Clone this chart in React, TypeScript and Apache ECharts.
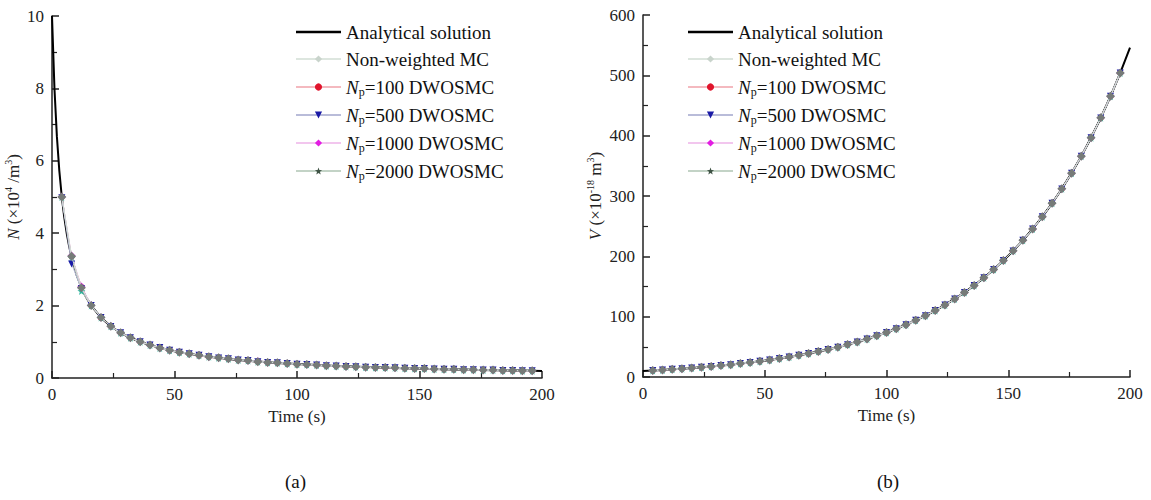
import React, { useEffect, useRef } from "react";
import * as echarts from "echarts";

// ---------- data ----------
const analyticTimesN = [0, 1, 2, 3, 4, 5, 6, 7, 8, 10, 12, 14, 16, 20, 24, 28, 32, 36, 40, 44, 48, 52, 56, 60, 64, 68, 72, 76, 80, 84, 88, 92, 96, 100, 104, 108, 112, 116, 120, 124, 128, 132, 136, 140, 144, 148, 152, 156, 160, 164, 168, 172, 176, 180, 184, 188, 192, 196, 200];
const analyticN = [10, 8, 6.667, 5.714, 5, 4.444, 4, 3.636, 3.333, 2.857, 2.5, 2.222, 2, 1.667, 1.429, 1.25, 1.111, 1.0, 0.909, 0.833, 0.769, 0.714, 0.667, 0.625, 0.588, 0.556, 0.526, 0.5, 0.476, 0.455, 0.435, 0.417, 0.4, 0.385, 0.37, 0.357, 0.345, 0.333, 0.323, 0.313, 0.303, 0.294, 0.286, 0.278, 0.27, 0.263, 0.256, 0.25, 0.244, 0.238, 0.233, 0.227, 0.222, 0.217, 0.213, 0.208, 0.204, 0.2, 0.196];

const analyticTimesV = [0, 4, 8, 12, 16, 20, 24, 28, 32, 36, 40, 44, 48, 52, 56, 60, 64, 68, 72, 76, 80, 84, 88, 92, 96, 100, 104, 108, 112, 116, 120, 124, 128, 132, 136, 140, 144, 148, 152, 156, 160, 164, 168, 172, 176, 180, 184, 188, 192, 196, 200];
const analyticV = [10.0, 10.8, 11.7, 12.7, 13.8, 14.9, 16.2, 17.5, 19.0, 20.5, 22.3, 24.1, 26.1, 28.3, 30.6, 33.2, 36.0, 39.0, 42.2, 45.7, 49.5, 53.7, 58.1, 63.0, 68.2, 73.9, 80.0, 86.7, 93.9, 101.7, 110.2, 119.4, 129.4, 140.1, 151.8, 164.4, 178.2, 193.0, 209.1, 226.5, 245.3, 265.8, 287.9, 311.9, 337.9, 366.0, 396.5, 429.5, 465.3, 504.0, 546.0];

const mcTimes = [4, 8, 12, 16, 20, 24, 28, 32, 36, 40, 44, 48, 52, 56, 60, 64, 68, 72, 76, 80, 84, 88, 92, 96, 100, 104, 108, 112, 116, 120, 124, 128, 132, 136, 140, 144, 148, 152, 156, 160, 164, 168, 172, 176, 180, 184, 188, 192, 196];

const nonWeightedN = [5.0, 3.36, 2.49, 2.0, 1.67, 1.43, 1.25, 1.11, 1.0, 0.91, 0.83, 0.77, 0.71, 0.67, 0.63, 0.59, 0.56, 0.53, 0.5, 0.48, 0.45, 0.43, 0.42, 0.4, 0.38, 0.37, 0.36, 0.34, 0.33, 0.32, 0.31, 0.3, 0.29, 0.29, 0.28, 0.27, 0.26, 0.26, 0.25, 0.24, 0.24, 0.23, 0.23, 0.22, 0.22, 0.21, 0.21, 0.2, 0.2];
const np100N = [5.0, 3.35, 2.52, 2.0, 1.66, 1.43, 1.25, 1.11, 1.0, 0.91, 0.83, 0.77, 0.71, 0.67, 0.62, 0.59, 0.56, 0.53, 0.5, 0.48, 0.45, 0.44, 0.42, 0.4, 0.38, 0.37, 0.36, 0.34, 0.33, 0.32, 0.31, 0.3, 0.29, 0.28, 0.28, 0.27, 0.26, 0.26, 0.25, 0.24, 0.24, 0.23, 0.23, 0.22, 0.22, 0.21, 0.21, 0.2, 0.2];
const np500N = [4.98, 3.15, 2.47, 2.0, 1.67, 1.42, 1.25, 1.11, 1.0, 0.91, 0.84, 0.77, 0.71, 0.67, 0.63, 0.59, 0.55, 0.53, 0.5, 0.48, 0.45, 0.43, 0.42, 0.4, 0.38, 0.37, 0.36, 0.34, 0.33, 0.32, 0.31, 0.3, 0.29, 0.29, 0.28, 0.27, 0.26, 0.26, 0.25, 0.24, 0.24, 0.23, 0.23, 0.22, 0.22, 0.21, 0.21, 0.2, 0.2];
const np1000N = [5.01, 3.38, 2.53, 2.01, 1.67, 1.43, 1.25, 1.11, 1.0, 0.91, 0.83, 0.77, 0.72, 0.67, 0.63, 0.59, 0.56, 0.53, 0.5, 0.48, 0.46, 0.43, 0.42, 0.4, 0.38, 0.37, 0.36, 0.34, 0.33, 0.32, 0.31, 0.3, 0.29, 0.29, 0.28, 0.27, 0.26, 0.26, 0.25, 0.24, 0.24, 0.23, 0.23, 0.22, 0.22, 0.21, 0.21, 0.2, 0.2];
const np2000N = [5.0, 3.32, 2.4, 2.0, 1.67, 1.43, 1.25, 1.11, 1.0, 0.91, 0.83, 0.77, 0.71, 0.67, 0.63, 0.59, 0.56, 0.53, 0.5, 0.48, 0.45, 0.43, 0.42, 0.4, 0.38, 0.37, 0.36, 0.34, 0.33, 0.32, 0.31, 0.3, 0.29, 0.29, 0.28, 0.27, 0.26, 0.26, 0.25, 0.24, 0.24, 0.23, 0.23, 0.22, 0.22, 0.21, 0.21, 0.2, 0.2];

const nonWeightedV = [10.8, 11.7, 12.7, 13.8, 14.9, 16.2, 17.5, 19.0, 20.5, 22.3, 24.1, 26.1, 28.3, 30.6, 33.2, 36.0, 39.0, 42.2, 45.7, 49.5, 53.7, 58.1, 63.0, 68.2, 73.9, 80.0, 86.7, 93.9, 101.7, 110.2, 119.4, 129.4, 140.1, 151.8, 164.4, 178.2, 193.0, 209.1, 226.5, 245.3, 265.8, 287.9, 311.9, 337.9, 366.0, 396.5, 429.5, 465.3, 504.0];
const np100V = [10.8, 11.7, 12.8, 13.8, 14.9, 16.2, 17.5, 19.0, 20.6, 22.3, 24.1, 26.1, 28.3, 30.7, 33.2, 36.0, 39.0, 42.2, 45.8, 49.5, 53.7, 58.1, 63.0, 68.2, 73.9, 80.1, 86.7, 93.9, 101.8, 110.2, 119.4, 129.4, 140.1, 151.9, 164.4, 178.2, 193.0, 209.1, 226.5, 245.4, 265.8, 287.9, 311.9, 337.9, 366.1, 396.5, 429.5, 465.3, 504.1];
const np500V = [10.8, 11.8, 12.7, 13.8, 14.9, 16.2, 17.5, 19.0, 20.5, 22.2, 24.1, 26.1, 28.3, 30.6, 33.2, 36.0, 39.0, 42.2, 45.7, 49.5, 53.6, 58.1, 63.0, 68.2, 73.8, 80.0, 86.7, 93.9, 101.7, 110.2, 119.4, 129.3, 140.1, 151.8, 164.4, 178.1, 193.0, 209.0, 226.5, 245.3, 265.7, 287.9, 311.8, 337.8, 366.0, 396.4, 429.4, 465.2, 503.9];
const np1000V = [10.8, 11.7, 12.7, 13.8, 15.0, 16.2, 17.5, 19.0, 20.5, 22.3, 24.1, 26.1, 28.3, 30.6, 33.2, 36.0, 39.0, 42.2, 45.7, 49.5, 53.7, 58.1, 63.0, 68.2, 73.9, 80.0, 86.7, 93.9, 101.7, 110.2, 119.4, 129.4, 140.1, 151.8, 164.4, 178.2, 193.0, 209.1, 226.5, 245.3, 265.8, 287.9, 311.9, 337.9, 366.0, 396.5, 429.5, 465.3, 504.0];
const np2000V = [10.8, 11.7, 12.7, 13.8, 14.9, 16.2, 17.5, 19.0, 20.5, 22.3, 24.1, 26.1, 28.3, 30.6, 33.2, 36.0, 39.0, 42.2, 45.7, 49.5, 53.7, 58.1, 63.0, 68.2, 73.9, 80.0, 86.7, 93.9, 101.7, 110.2, 119.4, 129.4, 140.1, 151.8, 164.4, 178.2, 193.0, 209.1, 226.5, 245.3, 265.8, 287.9, 311.9, 337.9, 366.0, 396.5, 429.5, 465.3, 504.0];

const seriesNames = [
  "Analytical solution",
  "Non-weighted MC",
  "Np=100 DWOSMC",
  "Np=500 DWOSMC",
  "Np=1000 DWOSMC",
  "Np=2000 DWOSMC",
];

// ---------- styles ----------
const FONT = "Liberation Serif";
const STAR =
  "path://M0,-10L2.35,-3.24L9.51,-3.09L3.8,1.24L5.88,8.09L0,4L-5.88,8.09L-3.8,1.24L-9.51,-3.09L-2.35,-3.24Z";
const LINE_ICON = "path://M0,3.3h45v2.4h-45z M0,0h0.05v0.05h-0.05z M0,9h0.05v-0.05h-0.05z";

const mcStyles = [
  { name: seriesNames[1], symbol: "diamond", size: 9, color: "#767b78", line: "#d3ddd6", z: 6 },
  { name: seriesNames[2], symbol: "circle", size: 6, color: "#e0142c", line: "#f4b9bf", z: 3 },
  { name: seriesNames[3], symbol: "triangle", rotate: 180, size: 7, color: "#1a1aa6", line: "#b9bcd9", z: 5 },
  { name: seriesNames[4], symbol: "diamond", size: 8, color: "#e21ce2", line: "#f2c6ee", z: 4 },
  { name: seriesNames[5], symbol: STAR, size: 8, color: "#2fb8a0", line: "#c3d3c6", z: 4 },
];

const zip = (xs: number[], ys: number[]) => xs.map((x, i) => [x, ys[i]]);

export default function App() {
  const ref = useRef<HTMLDivElement>(null);

  useEffect(() => {
    document.body.style.margin = "0";
    if (!ref.current) return;
    const chart = echarts.init(ref.current, undefined, { renderer: "svg" });

    const axisCommon = {
      axisLine: { show: true, lineStyle: { color: "#222", width: 1.5 } },
      axisTick: { show: true, inside: true, length: 7, lineStyle: { color: "#222", width: 1.5 } },
      minorTick: { show: true, splitNumber: 2, length: 5, lineStyle: { color: "#222", width: 1.2 } },
      splitLine: { show: false },
      axisLabel: { color: "#222", fontFamily: FONT, fontSize: 17, margin: 8 },
    };

    const xAxisBase = {
      type: "value",
      min: 0,
      max: 200,
      interval: 50,
      name: "Time (s)",
      nameLocation: "middle",
      nameGap: 23,
      nameTextStyle: { color: "#222", fontFamily: FONT, fontSize: 17 },
      ...axisCommon,
    };

    const nameRich = {
      i: { fontStyle: "italic", fontFamily: FONT, fontSize: 17, color: "#222", lineHeight: 20 },
      sup: { fontFamily: FONT, fontSize: 10, color: "#222", verticalAlign: "top", lineHeight: 10, padding: [0, 0, 10, 0] },
    };

    const nData = [nonWeightedN, np100N, np500N, np1000N, np2000N];
    const vData = [nonWeightedV, np100V, np500V, np1000V, np2000V];

    const series: any[] = [];
    [0, 1].forEach((g) => {
      series.push({
        name: seriesNames[0],
        type: "line",
        xAxisIndex: g,
        yAxisIndex: g,
        data: g === 0 ? zip(analyticTimesN, analyticN) : zip(analyticTimesV, analyticV),
        symbol: "none",
        smooth: false,
        lineStyle: { color: "#000", width: 2 },
        itemStyle: { color: "#000" },
        z: 2,
      });
      mcStyles.forEach((s, k) => {
        series.push({
          name: s.name,
          type: "line",
          xAxisIndex: g,
          yAxisIndex: g,
          data: zip(mcTimes, g === 0 ? nData[k] : vData[k]),
          symbol: s.symbol,
          symbolRotate: (s as any).rotate || 0,
          symbolSize: s.size,
          showAllSymbol: true,
          lineStyle: { color: s.line, width: 1 },
          itemStyle: { color: s.color },
          z: s.z,
        });
      });
    });

    const legendData = seriesNames.map((n, i) =>
      i === 0
        ? { name: n, icon: LINE_ICON }
        : i === 1
        ? { name: n, itemStyle: { color: "#c9d4cc" }, lineStyle: { color: "#dde6df" } }
        : i === 5
        ? { name: n, itemStyle: { color: "#3e5244" } }
        : { name: n }
    );

    const legendCommon = {
      orient: "vertical",
      top: 16,
      itemWidth: 45,
      itemHeight: 9,
      itemGap: 5,
      data: legendData,
      formatter: (name: string) =>
        name.startsWith("Np=") ? `{i|N}{sub|p}${name.slice(2)}` : name,
      textStyle: {
        fontFamily: FONT,
        fontSize: 19,
        color: "#111",
        lineHeight: 22,
        rich: {
          i: { fontFamily: FONT, fontSize: 19, fontStyle: "italic", color: "#111", lineHeight: 22 },
          sub: { fontFamily: FONT, fontSize: 12, color: "#111", verticalAlign: "bottom", lineHeight: 12, padding: [11, 0, 0, 0] },
        },
      },
    };

    chart.setOption({
      animation: false,
      backgroundColor: "#fff",
      grid: [
        { left: 52, right: 609, top: 16, bottom: 122 },
        { left: 643, right: 21, top: 15, bottom: 123 },
      ],
      xAxis: [
        { ...xAxisBase, gridIndex: 0 },
        { ...xAxisBase, gridIndex: 1 },
      ],
      yAxis: [
        {
          type: "value",
          gridIndex: 0,
          min: 0,
          max: 10,
          interval: 2,
          name: "{i|N} (×10{sup|4} /m{sup|3})",
          nameLocation: "middle",
          nameGap: 22,
          nameTextStyle: { color: "#222", fontFamily: FONT, fontSize: 17, rich: nameRich },
          ...axisCommon,
        },
        {
          type: "value",
          gridIndex: 1,
          min: 0,
          max: 600,
          interval: 100,
          name: "{i|V} (×10{sup|-18} m{sup|3})",
          nameLocation: "middle",
          nameGap: 37,
          nameTextStyle: { color: "#222", fontFamily: FONT, fontSize: 17, rich: nameRich },
          ...axisCommon,
        },
      ],
      legend: [
        { ...legendCommon, left: 290 },
        { ...legendCommon, left: 682 },
      ],
      graphic: [
        { type: "text", left: 285, top: 472, style: { text: "(a)", font: `19px ${FONT}`, fill: "#111" } },
        { type: "text", left: 877, top: 472, style: { text: "(b)", font: `19px ${FONT}`, fill: "#111" } },
      ],
      series,
    });

    return () => chart.dispose();
  }, []);

  return <div ref={ref} style={{ width: 1151, height: 500 }} />;
}
